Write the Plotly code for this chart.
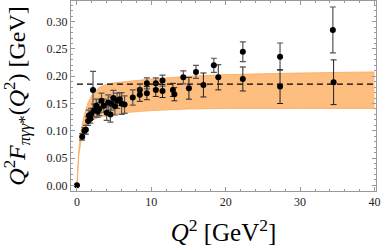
import plotly.graph_objects as go

# ---- data ----
# low/intermediate Q^2 data (gray error bars)
q_a = [0.0, 0.7, 1.0, 1.2, 1.5, 1.6, 1.8, 1.9, 2.16, 2.3, 2.6, 2.8, 3.0, 3.3, 3.6, 4.0, 4.2, 4.5, 4.6,
       4.9, 5.1, 5.4, 5.75, 6.0, 6.4, 7.5, 8.45, 9.4, 10.6, 11.5, 14.3, 16.0, 18.4, 22.3, 27.3, 34.4]
v_a = [0.0, 0.089, 0.100, 0.102, 0.118, 0.128, 0.122, 0.131, 0.175, 0.137, 0.146, 0.135, 0.140, 0.155,
       0.146, 0.133, 0.152, 0.130, 0.150, 0.160, 0.145, 0.155, 0.158, 0.150, 0.148, 0.161, 0.175, 0.187,
       0.187, 0.192, 0.198, 0.208, 0.220, 0.245, 0.236, 0.285]
e_a = [0.0, 0.006, 0.006, 0.008, 0.008, 0.010, 0.008, 0.010, 0.034, 0.012, 0.012, 0.010, 0.012, 0.014,
       0.012, 0.014, 0.014, 0.014, 0.012, 0.014, 0.016, 0.014, 0.012, 0.020, 0.016, 0.014, 0.010, 0.010,
       0.010, 0.010, 0.012, 0.012, 0.013, 0.018, 0.025, 0.042]
# second data set (dark error bars)
q_b = [8.45, 9.4, 10.6, 11.5, 12.9, 13.1, 15.05, 17.0, 19.0, 22.3, 27.3, 34.5]
v_b = [0.166, 0.169, 0.175, 0.173, 0.175, 0.167, 0.178, 0.184, 0.198, 0.195, 0.181, 0.189]
e_b = [0.012, 0.012, 0.012, 0.012, 0.012, 0.012, 0.020, 0.022, 0.023, 0.022, 0.031, 0.041]

# theory band
band_q = [0, 0.1, 0.25, 0.5, 0.75, 1, 1.5, 2, 3, 4, 5, 7, 10, 15, 20, 30, 40]
band_hi = [0, 0.035, 0.065, 0.095, 0.115, 0.13, 0.152, 0.165, 0.18, 0.185, 0.188, 0.191, 0.195,
           0.200, 0.203, 0.206, 0.208]
band_lo = [0, 0.030, 0.055, 0.078, 0.092, 0.102, 0.113, 0.119, 0.125, 0.128, 0.130, 0.134, 0.137,
           0.140, 0.141, 0.141, 0.141]

# asymptotic limit
limit_q = [0, 40.2]
limit_v = [0.1855, 0.1855]

x_ticks = [0, 10, 20, 30, 40]
y_ticks = [0.00, 0.05, 0.10, 0.15, 0.20, 0.25, 0.30]

fig = go.Figure()
fig.add_trace(go.Scatter(x=band_q, y=band_lo, mode="lines",
                         line=dict(color="#FBA85A", width=0.8), showlegend=False, hoverinfo="skip"))
fig.add_trace(go.Scatter(x=band_q, y=band_hi, mode="lines", fill="tonexty",
                         fillcolor="#FDBE80",
                         line=dict(color="#FBA85A", width=0.8), showlegend=False, hoverinfo="skip"))
fig.add_trace(go.Scatter(x=limit_q, y=limit_v, mode="lines",
                         line=dict(color="black", width=1.2, dash="6px,4px"), showlegend=False))
fig.add_trace(go.Scatter(x=q_a, y=v_a, mode="markers",
                         marker=dict(color="black", size=6),
                         error_y=dict(type="data", array=e_a, color="#555555", thickness=1.2, width=3),
                         showlegend=False))
fig.add_trace(go.Scatter(x=q_b, y=v_b, mode="markers",
                         marker=dict(color="black", size=6),
                         error_y=dict(type="data", array=e_b, color="#222222", thickness=1, width=3),
                         showlegend=False))

axis_common = dict(showline=True, linecolor="#999999", linewidth=1, mirror="allticks",
                   ticks="inside", tickcolor="#999999", ticklen=4, showgrid=False, zeroline=False,
                   ticklabeloverflow="allow", automargin=False,
                   tickfont=dict(family="Liberation Serif", size=12, color="#222222"))

fig.update_xaxes(range=[-0.8, 40.2], tickvals=x_ticks, ticktext=[str(t) for t in x_ticks],
                 minor=dict(ticks="inside", ticklen=2, tickcolor="#999999", dtick=2, tick0=0),
                 title=dict(text="<i>Q</i><sup>2</sup> [GeV<sup>2</sup>]",
                            font=dict(family="Liberation Serif", size=25, color="black")),
                 **axis_common)
fig.update_yaxes(range=[-0.0104, 0.338], tickvals=y_ticks, ticktext=[f"{t:.2f}" for t in y_ticks],
                 minor=dict(ticks="inside", ticklen=2, tickcolor="#999999", dtick=0.01, tick0=0),
                 **axis_common)

fig.add_annotation(text="<i>Q</i><sup>2</sup><i>F</i><sub><i>πγγ</i>*</sub>(<i>Q</i><sup>2</sup>) [GeV]",
                   xref="paper", yref="paper", x=-0.178, y=0.5, xanchor="center", yanchor="middle",
                   textangle=-90, showarrow=False,
                   font=dict(family="Liberation Serif", size=24, color="black"))

fig.update_layout(width=382, height=250, margin=dict(l=71, r=6, t=1, b=59),
                  paper_bgcolor="white", plot_bgcolor="white")
fig.write_html("out.html", config={"displayModeBar": False},
               post_script="document.body.style.margin='0';")
